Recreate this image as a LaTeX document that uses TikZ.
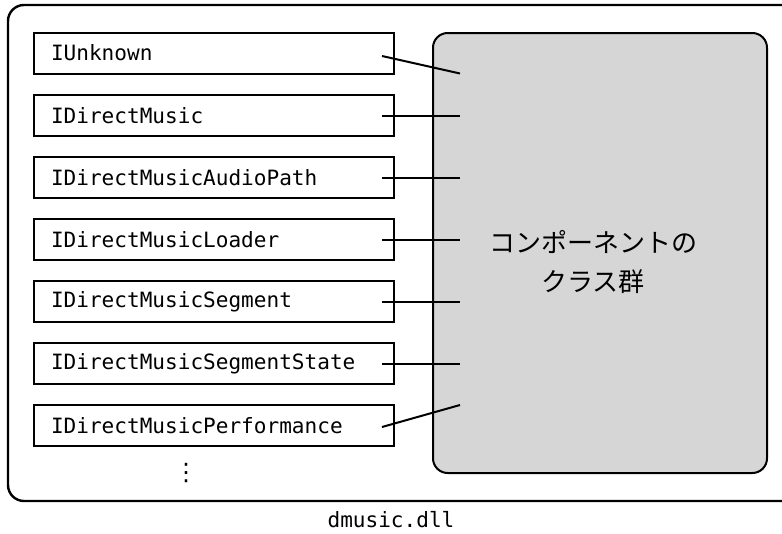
\documentclass[tikz,border=0pt]{standalone}
\usepackage{fontspec}
\setmonofont{DejaVu Sans Mono}
\newfontfamily\cjk{Noto Sans CJK JP}
\newfontfamily\symfont{DejaVu Sans}
\usetikzlibrary{positioning}
\newcommand{\ifont}{\ttfamily\fontsize{15.8}{18}\selectfont}

\begin{document}
\begin{tikzpicture}[x=0.75pt,y=-0.75pt,
  iface/.style={draw,line width=1.5pt,anchor=west,minimum height=30.75pt,
    text width=244.5pt,inner xsep=12.75pt,align=left,font=\ifont},
  link/.style={line width=1.5pt}]
   \useasboundingbox (0,0) rectangle (782,533);
   % dll frame, runs off the right edge
   \draw [line width=1.8pt,rounded corners=12pt] (8,5) rectangle (800,501);
   \node [draw,line width=1.5pt,rounded corners=11pt,fill=black!16,
     minimum width=250.5pt,minimum height=330pt] (Cls) at (600,253) {};
   \node [align=center,font=\cjk\fontsize{19.5}{29.25}\selectfont] (ClsName) at (593,262) {コンポーネントの\\クラス群};
   % interfaces
   \node [iface] (Unk) at (33,53) {IUnknown};
   \node [iface] (DM) at (33,115.5) {IDirectMusic};
   \node [iface] (Path) at (33,177.5) {IDirectMusicAudioPath};
   \node [iface] (Ldr) at (33,239.5) {IDirectMusicLoader};
   \node [iface] (Seg) at (33,301.5) {IDirectMusicSegment};
   \node [iface] (SegSt) at (33,363.5) {IDirectMusicSegmentState};
   \node [iface] (Perf) at (33,425.5) {IDirectMusicPerformance};
   \node [font=\symfont\fontsize{18}{18}\selectfont] (More) at (186,473) {⋮};
   \node [font=\ifont] (Dll) at (391,520) {dmusic.dll};
   % line ends inside the class block
   \coordinate (Unk-c) at (460,73.5);
   \coordinate (DM-c) at (460,115.5);
   \coordinate (Path-c) at (460,177.5);
   \coordinate (Ldr-c) at (460,239.5);
   \coordinate (Seg-c) at (460,301.5);
   \coordinate (SegSt-c) at (460,363.5);
   \coordinate (Perf-c) at (460,405);
   \draw [link] ([shift={(-13,3)}]Unk.east) -- (Unk-c);
   \draw [link] ([xshift=-9.75pt]DM.east) -- (DM-c);
   \draw [link] ([xshift=-9.75pt]Path.east) -- (Path-c);
   \draw [link] ([xshift=-9.75pt]Ldr.east) -- (Ldr-c);
   \draw [link] ([xshift=-9.75pt]Seg.east) -- (Seg-c);
   \draw [link] ([xshift=-9.75pt]SegSt.east) -- (SegSt-c);
   \draw [link] ([shift={(-13,1.5)}]Perf.east) -- (Perf-c);
\end{tikzpicture}
\end{document}
